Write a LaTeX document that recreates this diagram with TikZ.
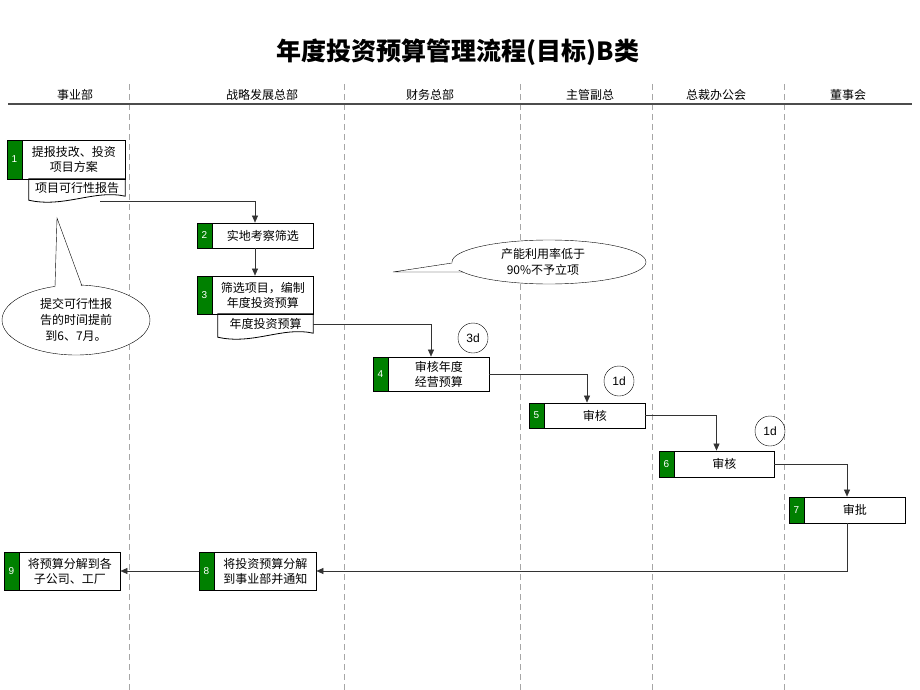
\documentclass[tikz,border=0pt]{standalone}
\usepackage{fontspec}
\setmainfont{Noto Sans CJK SC}
\newfontfamily\latinfont{Liberation Sans}
\usetikzlibrary{arrows.meta, positioning, shapes.geometric, calc}

\definecolor{stepgreen}{RGB}{0,128,0}
\tikzset{
    stepbox/.style={draw, thick, fill=white, inner sep=0pt},
    numbox/.style={draw, thick, fill=stepgreen, text=white, minimum width=15pt, inner sep=0pt, font=\latinfont\fontsize{10}{10}\selectfont},
    steptext/.style={align=center, inner sep=0pt, font=\fontsize{12}{15}\selectfont},
    docnode/.style={inner sep=0pt, font=\fontsize{12}{14}\selectfont},
    bubble/.style={ellipse, draw, fill=white, align=center, inner sep=0pt, font=\fontsize{12}{16}\selectfont},
    daycircle/.style={circle, draw, minimum size=30pt, inner sep=0pt, font=\latinfont\fontsize{12}{12}\selectfont},
    conn/.style={draw=black!80, semithick, -{Triangle[width=6pt,length=7pt]}},
    laneline/.style={gray!70, dash pattern=on 6pt off 4pt}
}

% step box: name, number, x, y, width, height, text
\newcommand{\flowstep}[7]{%
    \node[stepbox, minimum width=#5pt, minimum height=#6pt] (#1) at (#3,#4) {};
    \node[numbox, minimum height=#6pt, anchor=west] (#1n) at (#1.west) {#2};
    \node[steptext] (#1t) at ($(#1n.east)!0.5!(#1.east)$) {#7};
}
% document shape with wavy bottom
\newcommand{\docshape}[1]{%
    \draw[thick] (#1.north west) -- (#1.north east) -- ($(#1.south east)+(0,-1)$)
        .. controls +(-30,-7) and +(35,8) .. ($(#1.south west)+(0,3)$) -- cycle;
}

\begin{document}
\begin{tikzpicture}[x=1pt, y=-1pt]
    \useasboundingbox (0,0) rectangle (920,690);

    % Title
    \node[font=\bfseries\fontsize{25}{25}\selectfont] (title) at (458,52) {年度投资预算管理流程(目标)B类};

    % Lanes
    \foreach \x in {129,344,520,652,784} {
        \draw[laneline] (\x,84) -- (\x,690);
    }
    \draw[line width=1.8pt, gray!60!black] (8,104) -- (912,104);
    \foreach \x/\name [count=\i] in {75/事业部, 262/战略发展总部, 430/财务总部, 590/主管副总, 716/总裁办公会, 848/董事会} {
        \node[font=\fontsize{12}{12}\selectfont] (lane\i) at (\x,95) {\name};
    }

    % Steps
    \flowstep{s1}{1}{66}{159.5}{118}{39}{提报技改、投资\\项目方案}
    \flowstep{s2}{2}{255}{235.5}{116}{25}{实地考察筛选}
    \flowstep{s3}{3}{255}{295}{116}{38}{筛选项目，编制\\年度投资预算}
    \flowstep{s4}{4}{431}{374}{116}{34}{审核年度\\经营预算}
    \flowstep{s5}{5}{587}{415.5}{116}{25}{审核}
    \flowstep{s6}{6}{716.5}{464}{115}{26}{审核}
    \flowstep{s7}{7}{847}{510}{116}{26}{审批}
    \flowstep{s8}{8}{257.5}{571}{117}{38}{将投资预算分解\\到事业部并通知}
    \flowstep{s9}{9}{62}{571}{116}{38}{将预算分解到各\\子公司、工厂}

    % Documents
    \node[docnode, minimum width=96pt, minimum height=18pt] (d1) at (77,188) {项目可行性报告};
    \docshape{d1}
    \node[docnode, minimum width=95pt, minimum height=20pt] (d3) at (265.5,324) {年度投资预算};
    \docshape{d3}

    % Durations
    \node[daycircle] (t4) at (473,338) {3d};
    \node[daycircle] (t5) at (619,381) {1d};
    \node[daycircle] (t6) at (770,431) {1d};

    % Callouts
    \node[bubble, minimum width=148pt, minimum height=70pt] (b1) at (76,320) {提交可行性报\\告的时间提前\\到6、7月。};
    \fill[white] (55,290) -- (57,218) -- (82,289) -- cycle;
    \draw (55,287) -- (57,218) -- (82,286);
    \node[bubble, minimum width=194pt, minimum height=44pt] (b2) at (549,262) {};
    \fill[white] (455,262) -- (393,272) -- (466,270) -- cycle;
    \draw (452,263) -- (393,272) -- (463,272);
    \node[bubble, draw=none, fill=none] (b2t) at (543,262) {产能利用率低于\\90\%不予立项};

    % Connectors
    \coordinate (d1out) at (100,201);
    \draw[conn] (d1out) -| (s2.north);
    \draw[conn] (s2.south) -- (s3.north);
    \draw[conn] (d3.east) -| (s4.north);
    \draw[conn] (s4.east) -| (s5.north);
    \draw[conn] (s5.east) -| (s6.north);
    \draw[conn] (s6.east) -| (s7.north);
    \draw[conn] (s7.south) |- (s8.east);
    \draw[conn] (s8.west) -- (s9.east);
\end{tikzpicture}
\end{document}
